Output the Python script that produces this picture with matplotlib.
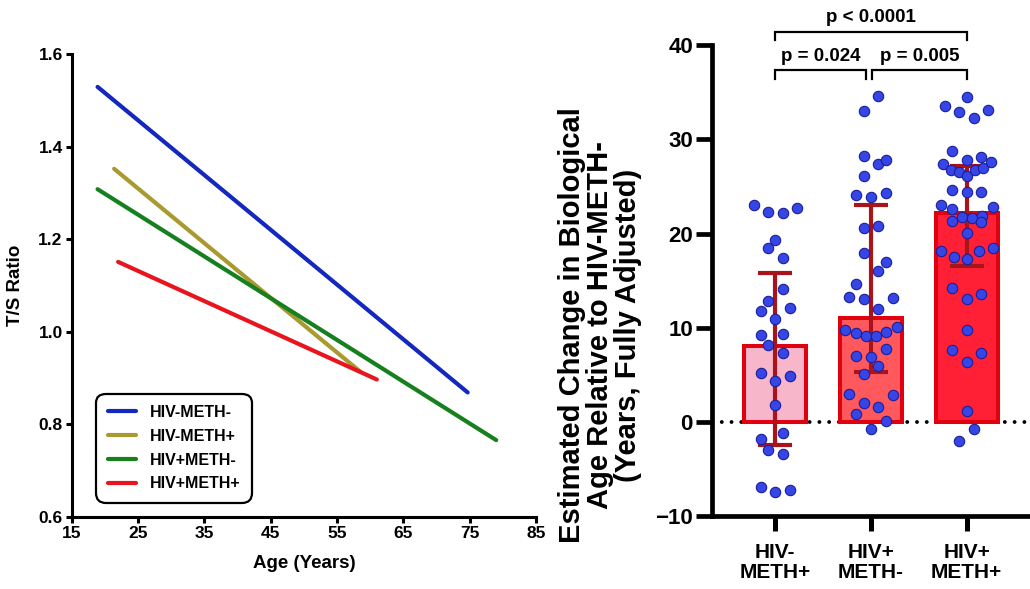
import matplotlib
matplotlib.use("Agg")
import matplotlib.pyplot as plt

plt.rcParams['font.family'] = ['Liberation Sans', 'DejaVu Sans']
plt.rcParams['font.weight'] = 'bold'

# ---------------- Left panel data ----------------
groups = ["HIV-METH-", "HIV-METH+", "HIV+METH-", "HIV+METH+"]
age_start = [18.9, 21.4, 18.9, 22.0]
age_end = [74.7, 58.5, 79.0, 61.0]
ts_start = [1.529, 1.352, 1.308, 1.151]
ts_end = [0.869, 0.914, 0.766, 0.897]
line_colors = ["#1428C0", "#A89A30", "#17801E", "#E8141E"]
left_xticks = [15, 25, 35, 45, 55, 65, 75, 85]
left_yticks = [0.6, 0.8, 1.0, 1.2, 1.4, 1.6]

# ---------------- Right panel data ----------------
categories = ["HIV-\nMETH+", "HIV+\nMETH-", "HIV+\nMETH+"]
bar_means = [8.1, 11.0, 22.2]
err_low = [-2.4, 5.3, 16.6]
err_high = [15.8, 23.0, 27.2]
bar_fill = ["#F8B6CB", "#FF595E", "#FF2035"]

g1_values = [23.0, 22.3, 22.2, 22.7, 19.3, 18.5, 17.4, 14.1, 12.8, 11.8, 12.1, 10.9,
             9.2, 9.3, 8.2, 7.3, 5.2, 4.4, 4.9, 1.8, -1.2, -1.8, -3.0, -3.4, -6.9, -7.4, -7.2]
g1_jitter = [-0.22, -0.07, 0.08, 0.227, 0.0, -0.07, 0.08, 0.08, -0.07, -0.147, 0.157, 0.0,
             -0.147, 0.08, -0.07, 0.08, -0.147, 0.0, 0.157, 0.0, 0.08, -0.147, -0.07, 0.08,
             -0.147, 0.0, 0.157]
g2_values = [34.6, 33.0, 28.2, 27.4, 27.8, 26.1, 24.1, 23.9, 24.3, 20.6, 20.8, 17.9, 17.0,
             16.0, 14.6, 13.3, 13.1, 13.2, 12.0, 9.8, 9.4, 9.1, 9.1, 9.6, 10.1, 7.8, 7.0,
             6.9, 5.9, 5.1, 3.0, 2.9, 2.0, 1.6, 0.8, 0.1, -0.7]
g2_jitter = [0.077, -0.073, -0.073, 0.077, 0.154, -0.073, -0.15, 0.0, 0.154, -0.073, 0.077,
             -0.073, 0.154, 0.077, -0.15, -0.227, -0.073, 0.227, 0.077, -0.27, -0.15, -0.05,
             0.05, 0.16, 0.27, 0.154, -0.15, 0.0, 0.077, -0.073, -0.227, 0.227, -0.073,
             0.077, -0.15, 0.154, 0.0]
g3_values = [34.5, 33.5, 32.9, 32.3, 33.1, 28.8, 27.8, 28.1, 27.4, 26.8, 26.5, 26.1, 26.7,
             27.0, 27.6, 24.6, 24.4, 24.4, 23.0, 22.6, 21.8, 21.7, 21.9, 22.8, 21.3, 21.2,
             20.1, 18.2, 17.5, 17.3, 18.1, 18.5, 14.2, 13.1, 13.6, 9.8, 7.6, 7.3, 6.4, 1.2,
             -0.7, -2.0]
g3_jitter = [0.0, -0.227, -0.077, 0.077, 0.227, -0.15, 0.0, 0.15, -0.25, -0.167, -0.077, 0.0,
             0.087, 0.174, 0.25, -0.15, 0.0, 0.15, -0.27, -0.157, -0.052, 0.052, 0.163, 0.27,
             -0.15, 0.15, 0.0, -0.27, -0.133, 0.0, 0.133, 0.27, -0.15, 0.0, 0.15, 0.0, -0.15,
             0.15, 0.0, 0.0, 0.077, -0.077]
point_values = [g1_values, g2_values, g3_values]
point_jitter = [g1_jitter, g2_jitter, g3_jitter]

comparisons = [(0, 1, "p = 0.024"), (1, 2, "p = 0.005"), (0, 2, "p < 0.0001")]

# ---------------- Figure ----------------
fig = plt.figure(figsize=(10.30, 5.89), dpi=100)

# Left panel
axL = fig.add_axes([71.7 / 1030, 1 - 517 / 589, 464.3 / 1030, 463 / 589])
for i, g in enumerate(groups):
    axL.plot([age_start[i], age_end[i]], [ts_start[i], ts_end[i]], color=line_colors[i],
             lw=3.0, solid_capstyle='round', label=g)
axL.set_xlim(15, 85)
axL.set_ylim(0.6, 1.6)
axL.set_xticks(left_xticks)
axL.set_yticks(left_yticks)
axL.set_yticklabels([f"{v:.1f}" for v in left_yticks])
for s in ['top', 'right']:
    axL.spines[s].set_visible(False)
for s in ['left', 'bottom']:
    axL.spines[s].set_linewidth(2.2)
axL.tick_params(width=2.2, length=4.5, labelsize=12.5, pad=2)
for lab in axL.get_xticklabels() + axL.get_yticklabels():
    lab.set_fontweight('bold')
axL.set_xlabel("Age (Years)", fontsize=13.5, fontweight='bold', labelpad=10)
axL.set_ylabel("T/S Ratio", fontsize=13.5, fontweight='bold', labelpad=10)
leg = axL.legend(loc='lower left', bbox_to_anchor=(0.036, 0.014), fontsize=11.5,
                 handlelength=1.75, handletextpad=0.9, labelspacing=0.55, borderpad=0.7,
                 fancybox=True, framealpha=1)
leg.get_frame().set_edgecolor('black')
leg.get_frame().set_linewidth(1.6)
leg.get_frame().set_boxstyle('round,pad=0.0,rounding_size=0.6')
for t in leg.get_texts():
    t.set_fontweight('bold')

# Right panel
axR = fig.add_axes([711.7 / 1030, 1 - 516.2 / 589, 1 - 711.7 / 1030, 0.7997])
xpos = list(range(len(categories)))
axR.axhline(0, color='black', lw=2.8, dashes=(0.01, 2.5), dash_capstyle='round', zorder=0.5)
axR.bar(xpos, bar_means, width=0.65, color=bar_fill, edgecolor='#E0000E', linewidth=2.9,
        zorder=1)
yerr = [[m - lo for m, lo in zip(bar_means, err_low)],
        [hi - m for m, hi in zip(bar_means, err_high)]]
axR.errorbar(xpos, bar_means, yerr=yerr, fmt='none', ecolor='#A8141A', elinewidth=3.0,
             capsize=12.5, capthick=3.0, zorder=2)
for i in xpos:
    axR.scatter([i + j for j in point_jitter[i]], point_values[i], s=56, color='#3646E6',
                edgecolor='#1A1E9A', linewidth=0.8, zorder=3, clip_on=False)

axR.set_xlim(-0.66, 2.66)
axR.set_ylim(-10, 40)
axR.set_yticks([-10, 0, 10, 20, 30, 40])
axR.set_xticks(xpos)
axR.set_xticklabels(categories, fontsize=15, linespacing=1.08)
for s in ['top', 'right']:
    axR.spines[s].set_visible(False)
for s in ['left', 'bottom']:
    axR.spines[s].set_linewidth(3.4)
axR.tick_params(axis='y', width=3.4, length=11.5, labelsize=16, pad=2)
axR.tick_params(axis='x', width=3.6, length=10.5, pad=9)
for lab in axR.get_yticklabels() + axR.get_xticklabels():
    lab.set_fontweight('heavy')

# significance brackets
levels = {"p = 0.024": (36.4, 37.4, 38.8), "p = 0.005": (36.4, 37.4, 38.8),
          "p < 0.0001": (40.55, 41.45, 42.9)}
xadj = {(0, 1): (0.0, 0.95), (1, 2): (1.015, 2.0), (0, 2): (0.0, 2.0)}
for a, b, txt in comparisons:
    lo, hi, ty = levels[txt]
    x0, x1 = xadj[(a, b)]
    axR.plot([x0, x0, x1, x1], [lo, hi, hi, lo], color='black', lw=1.6, clip_on=False,
             solid_joinstyle='miter')
    axR.text((x0 + x1) / 2, ty, txt, ha='center', va='center', fontsize=13.5,
             fontweight='bold', clip_on=False)

fig.text(600 / 1030, 1 - 325 / 589,
         "Estimated Change in Biological\nAge Relative to HIV-METH-\n(Years, Fully Adjusted)",
         rotation=90, ha='center', va='center', fontsize=21, fontweight='bold',
         multialignment='center', linespacing=0.98)

fig.savefig("out.png", dpi=100, facecolor='white')
